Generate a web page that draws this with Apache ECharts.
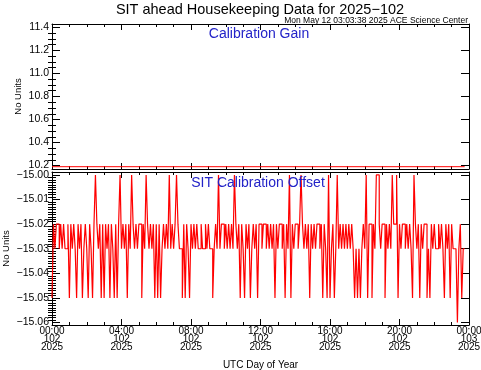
<!DOCTYPE html>
<html>
<head>
<meta charset="utf-8">
<script src="https://cdn.jsdelivr.net/npm/echarts@6/dist/echarts.min.js"></script>
<style>
html,body{margin:0;padding:0;background:#fff;}
#chart{width:481px;height:370px;}
</style>
</head>
<body>
<div id="chart"></div>
<script>
// ---------------- data ----------------
const chartTitle = 'SIT ahead Housekeeping Data for 2025\u2212102';
const stampText = 'Mon May 12 03:03:38 2025 ACE Science Center';
const gainPanelLabel = 'Calibration Gain';
const offsetPanelLabel = 'SIT Calibration Offset';
const yName = 'No Units';
const xName = 'UTC Day of Year';

// x axis ticks (hours of day 102)
const timeTickHours = [0, 4, 8, 12, 16, 20, 24];
const timeTickLabels = ['00:00\n102\n2025', '04:00\n102\n2025', '08:00\n102\n2025',
  '12:00\n102\n2025', '16:00\n102\n2025', '20:00\n102\n2025', '00:00\n103\n2025'];

// y axis ticks
const gainTickValues = [10.2, 10.4, 10.6, 10.8, 11.0, 11.2, 11.4];
const gainTickLabels = ['10.2', '10.4', '10.6', '10.8', '11.0', '11.2', '11.4'];
const offsetTickValues = [-15.06, -15.05, -15.04, -15.03, -15.02, -15.01, -15.00];
const offsetTickLabels = ['\u221215.06', '\u221215.05', '\u221215.04', '\u221215.03', '\u221215.02', '\u221215.01', '\u221215.00'];

// Calibration gain (constant)
const gainTimes = [0, 23.75];
const gainValues = [10.19, 10.19];

// Calibration offset, 5-minute samples, one array per 4-hour block
const sampleMinutes = 5;
const offset00to04 = [-15.05,-15.02,-15.03,-15.02,-15.02,-15.03,-15.02,-15.03,-15.02,-15.03,
  -15.03,-15.02,-15.05,-15.02,-15.03,-15.02,-15.03,-15.05,-15.02,-15.03,
  -15.02,-15.05,-15.03,-15.02,-15.03,-15.05,-15.02,-15.03,-15.05,-15.02,
  -15.00,-15.02,-15.03,-15.02,-15.05,-15.02,-15.05,-15.02,-15.03,-15.02,
  -15.05,-15.02,-15.03,-15.05,-15.02,-15.05,-15.02,-15.00];
const offset04to08 = [-15.03,-15.02,-15.03,-15.02,-15.05,-15.02,-15.03,-15.00,-15.02,-15.03,
  -15.02,-15.03,-15.02,-15.02,-15.05,-15.02,-15.03,-15.00,-15.02,-15.03,
  -15.02,-15.03,-15.02,-15.05,-15.02,-15.05,-15.02,-15.05,-15.03,-15.02,
  -15.03,-15.02,-15.03,-15.00,-15.03,-15.02,-15.03,-15.02,-15.00,-15.02,
  -15.03,-15.03,-15.05,-15.02,-15.05,-15.02,-15.03,-15.05];
const offset08to12 = [-15.02,-15.03,-15.02,-15.03,-15.02,-15.03,-15.03,-15.02,-15.03,-15.03,
  -15.02,-15.03,-15.02,-15.03,-15.03,-15.05,-15.03,-15.02,-15.03,-15.00,
  -15.03,-15.02,-15.02,-15.03,-15.02,-15.03,-15.02,-15.03,-15.02,-15.03,
  -15.00,-15.02,-15.03,-15.02,-15.05,-15.02,-15.03,-15.05,-15.02,-15.03,
  -15.02,-15.05,-15.03,-15.02,-15.03,-15.02,-15.05,-15.02];
const offset12to16 = [-15.02,-15.03,-15.02,-15.02,-15.03,-15.02,-15.03,-15.02,-15.03,-15.02,
  -15.05,-15.02,-15.03,-15.02,-15.02,-15.03,-15.02,-15.05,-15.02,-15.03,
  -15.00,-15.05,-15.02,-15.03,-15.02,-15.02,-15.03,-15.02,-15.00,-15.02,
  -15.03,-15.02,-15.03,-15.02,-15.05,-15.02,-15.03,-15.02,-15.03,-15.02,
  -15.02,-15.03,-15.02,-15.05,-15.02,-15.03,-15.05,-15.00];
const offset16to20 = [-15.05,-15.03,-15.02,-15.05,-15.03,-15.00,-15.03,-15.02,-15.03,-15.02,
  -15.03,-15.02,-15.03,-15.02,-15.03,-15.02,-15.03,-15.05,-15.03,-15.05,
  -15.03,-15.05,-15.03,-15.02,-15.03,-15.00,-15.05,-15.02,-15.02,-15.05,
  -15.02,-15.03,-15.00,-15.00,-15.02,-15.03,-15.02,-15.02,-15.05,-15.02,
  -15.03,-15.02,-15.03,-15.00,-15.02,-15.02,-15.00,-15.05];
const offset20to24 = [-15.02,-15.03,-15.02,-15.02,-15.03,-15.02,-15.03,-15.02,-15.03,-15.05,
  -15.00,-15.02,-15.03,-15.02,-15.05,-15.02,-15.03,-15.02,-15.02,-15.05,
  -15.03,-15.05,-15.02,-15.03,-15.02,-15.03,-15.03,-15.02,-15.03,-15.02,
  -15.03,-15.05,-15.02,-15.03,-15.02,-15.05,-15.02,-15.03,-15.03,-15.03,
  -15.06,-15.03,-15.02,-15.05,-15.03];

// ---------------- build series data (held-value steps) ----------------
const offsetValues = [].concat(offset00to04, offset04to08, offset08to12, offset12to16, offset16to20, offset20to24);
const stepHours = sampleMinutes / 60;
const offsetData = [];
offsetValues.forEach((v, i) => {
  offsetData.push([i * stepHours, v]);
  offsetData.push([(i + 1) * stepHours, v]);
});
const gainData = gainTimes.map((t, i) => [t, gainValues[i]]);

// ---------------- styling ----------------
const FONT = 'Liberation Sans';
const BLACK = '#000000';
const RED = '#ff0000';
const BLUE = '#2323c8';

function labelFor(values, labels) {
  return function (v) {
    for (let i = 0; i < values.length; i++) if (Math.abs(values[i] - v) < 1e-7) return labels[i];
    return '';
  };
}
function minorList(majors, step, lo, hi) {
  const out = [];
  const n = Math.round((hi - lo) / step);
  for (let i = 0; i <= n; i++) {
    const v = +(lo + i * step).toFixed(6);
    if (!majors.some(m => Math.abs(m - v) < 1e-7)) out.push(v);
  }
  return out;
}

const gainMin = 10.17, gainMax = 11.43;
const offMin = -15.061, offMax = -14.9988;
const gainMinor = minorList(gainTickValues, 0.05, 10.2, 11.4);
const offMinor = minorList(offsetTickValues, 0.001, -15.06, -15.0);

const grids = [
  { left: 52, top: 24, width: 417, height: 145 },
  { left: 52, top: 172, width: 417, height: 153 }
];

function xAx(gridIndex, position, showLabels) {
  return {
    type: 'value', gridIndex, position, min: 0, max: 24, interval: 4,
    axisLine: { show: true, onZero: false, lineStyle: { color: BLACK, width: 1 } },
    axisTick: { show: true, inside: true, length: 6, lineStyle: { color: BLACK, width: 1 } },
    minorTick: { show: true, splitNumber: 4, length: 3, lineStyle: { color: BLACK, width: 1 } },
    splitLine: { show: false }, minorSplitLine: { show: false },
    axisLabel: showLabels ? {
      show: true, margin: 2, fontFamily: FONT, fontSize: 10, color: BLACK, lineHeight: 8,
      formatter: labelFor(timeTickHours, timeTickLabels)
    } : { show: false },
    name: showLabels ? xName : '', nameLocation: 'middle', nameGap: 35, nameMoveOverlap: false,
    nameTextStyle: { fontFamily: FONT, fontSize: 10, color: BLACK }
  };
}
function yMajor(gridIndex, position, min, max, vals, labs, showLabels, nameGap) {
  return {
    type: 'value', gridIndex, position, min, max,
    axisLine: { show: true, onZero: false, lineStyle: { color: BLACK, width: 1 } },
    axisTick: { show: true, inside: true, length: 8, customValues: vals, lineStyle: { color: BLACK, width: 1 } },
    splitLine: { show: false },
    axisLabel: showLabels ? {
      show: true, margin: 3, fontFamily: FONT, fontSize: 10.5, color: BLACK,
      customValues: vals, formatter: labelFor(vals, labs)
    } : { show: false },
    name: nameGap ? yName : '', nameLocation: 'middle', nameGap: nameGap || 0, nameRotate: 90,
    nameMoveOverlap: false,
    nameTextStyle: { fontFamily: FONT, fontSize: 9.5, color: BLACK }
  };
}
function yMinor(gridIndex, position, min, max, vals) {
  return {
    type: 'value', gridIndex, position, min, max,
    axisLine: { show: false },
    axisTick: { show: true, inside: true, length: 4, customValues: vals, lineStyle: { color: BLACK, width: 1 } },
    splitLine: { show: false },
    axisLabel: { show: false }
  };
}

const option = {
  backgroundColor: '#ffffff',
  animation: false,
  title: [
    { text: chartTitle, left: 255, top: -3, textAlign: 'center',
      textStyle: { fontFamily: FONT, fontSize: 14.5, fontWeight: 'normal', color: BLACK } },
    { text: stampText, right: 8, top: 11,
      textStyle: { fontFamily: FONT, fontSize: 8.5, fontWeight: 'normal', color: BLACK } },
    { text: gainPanelLabel, left: 254, top: 22, textAlign: 'center',
      textStyle: { fontFamily: FONT, fontSize: 14, fontWeight: 'normal', color: BLUE } },
    { text: offsetPanelLabel, left: 253, top: 171, textAlign: 'center',
      textStyle: { fontFamily: FONT, fontSize: 14, fontWeight: 'normal', color: BLUE } }
  ],
  grid: grids.map(g => Object.assign({ outerBoundsMode: 'none', containLabel: false }, g)),
  xAxis: [
    xAx(0, 'bottom', false), xAx(0, 'top', false),
    xAx(1, 'bottom', true), xAx(1, 'top', false)
  ],
  yAxis: [
    yMajor(0, 'left', gainMin, gainMax, gainTickValues, gainTickLabels, true, 29),
    yMajor(0, 'right', gainMin, gainMax, gainTickValues, gainTickLabels, false, 0),
    yMinor(0, 'left', gainMin, gainMax, gainMinor),
    yMinor(0, 'right', gainMin, gainMax, gainMinor),
    yMajor(1, 'left', offMin, offMax, offsetTickValues, offsetTickLabels, true, 41),
    yMajor(1, 'right', offMin, offMax, offsetTickValues, offsetTickLabels, false, 0),
    yMinor(1, 'left', offMin, offMax, offMinor),
    yMinor(1, 'right', offMin, offMax, offMinor)
  ],
  series: [
    { type: 'line', xAxisIndex: 0, yAxisIndex: 0, data: gainData, showSymbol: false, symbol: 'none',
      lineStyle: { color: RED, width: 1 }, silent: true },
    { type: 'line', xAxisIndex: 2, yAxisIndex: 4, data: offsetData, showSymbol: false, symbol: 'none',
      lineStyle: { color: RED, width: 1.2 }, silent: true, clip: true }
  ]
};

const chart = echarts.init(document.getElementById('chart'), null, { renderer: 'canvas' });
chart.setOption(option);
</script>
</body>
</html>
